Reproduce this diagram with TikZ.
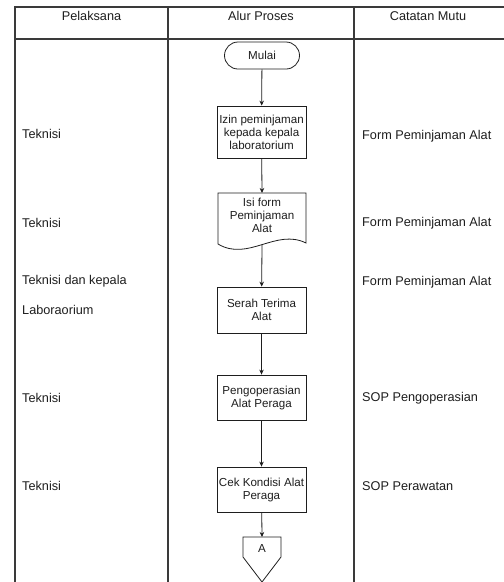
\documentclass[tikz,border=0pt]{standalone}
\usepackage{fontspec}
\setmainfont{Liberation Sans}
\usetikzlibrary{arrows.meta}
\definecolor{rule}{HTML}{3A3A3A}
\definecolor{ink}{HTML}{1E1E1E}
\begin{document}
\begin{tikzpicture}[x=1pt,y=-1pt,
  grid/.style={draw=rule,line width=1.1pt},
  cell/.style={inner sep=0pt,text=ink,font=\fontsize{12.7}{15}\selectfont},
  lefttext/.style={cell,anchor=west},
  stepbox/.style={draw=ink,line width=0.8pt,minimum width=89pt,inner sep=1pt,
    align=center,text=ink,font=\fontsize{11.6}{13}\selectfont},
  outline/.style={draw=ink,line width=0.8pt},
  arr/.style={draw=ink,line width=0.8pt,-{Stealth[length=5pt,width=4.5pt]}}]
\useasboundingbox (0,0) rectangle (504,582);
\fill[white] (0,0) rectangle (504,582);

% table frame
\draw[grid] (15,582) -- (15,7) -- (504,7);
\draw[grid] (15,39) -- (504,39);
\draw[grid] (168,7) -- (168,582);
\draw[grid] (354,7) -- (354,582);

% column headers
\node[cell] (h1) at (91.5,16) {Pelaksana};
\node[cell] (h2) at (261,16) {Alur Proses};
\node[cell] (h3) at (428,16) {Catatan Mutu};

% flow
\node[stepbox,rounded corners=13.5pt,minimum width=75pt,minimum height=27pt] (mulai) at (262,55.5) {Mulai};
\node[stepbox,minimum height=52pt] (b1) at (261.5,132) {Izin peminjaman\\kepada kepala\\laboratorium};

% document shape with wavy bottom
\draw[outline] (218,244) -- (218,193) -- (306,193) -- (306,243)
  .. controls (276,228) and (248,262) .. (218,244) -- cycle;
\node[stepbox,draw=none] (doc) at (262,215) {Isi form\\Peminjaman\\Alat};
\coordinate (doctop) at (262,193);
\coordinate (docbot) at (262,244.6);

\node[stepbox,minimum height=46pt] (b3) at (261.5,310) {Serah Terima\\Alat};
\node[stepbox,minimum height=45pt] (b4) at (261.5,397.5) {Pengoperasian\\Alat Peraga};
\node[stepbox,minimum height=45pt] (b5) at (261.5,489.5) {Cek Kondisi Alat\\Peraga};

% off-page connector
\draw[outline] (243,537) -- (281,537) -- (281,557) -- (262,582) -- (243,557) -- cycle;
\node[stepbox,draw=none,minimum width=0pt] (conA) at (262,549) {A};
\coordinate (contop) at (262,537);

\draw[arr] (mulai) -- (b1);
\draw[arr] (b1) -- (doctop);
\draw[arr] (docbot) -- (b3);
\draw[arr] (b3) -- (b4);
\draw[arr] (b4) -- (b5);
\draw[arr] (b5) -- (contop);

% executors
\node[lefttext] (p1) at (22,134) {Teknisi};
\node[lefttext] (p2) at (22,223) {Teknisi};
\node[lefttext] (p3) at (22,281) {Teknisi dan kepala};
\node[lefttext] (p4) at (22,310) {Laboraorium};
\node[lefttext] (p5) at (22,398) {Teknisi};
\node[lefttext] (p6) at (22,486) {Teknisi};

% quality records
\node[lefttext] (q1) at (362,136) {Form Peminjaman Alat};
\node[lefttext] (q2) at (362,223) {Form Peminjaman Alat};
\node[lefttext] (q3) at (362,282) {Form Peminjaman Alat};
\node[lefttext] (q4) at (362,398) {SOP Pengoperasian};
\node[lefttext] (q5) at (362,486) {SOP Perawatan};
\end{tikzpicture}
\end{document}
